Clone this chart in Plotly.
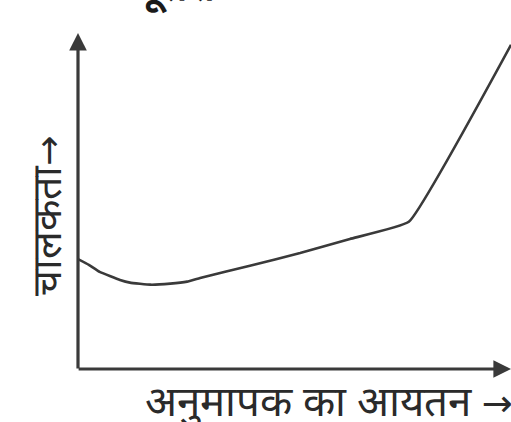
import plotly.graph_objects as go

# Titrant volume (arbitrary units) and conductance (arbitrary units)
volume = [0.0, 0.25, 0.5, 0.97, 1.2, 1.67, 2.13, 2.52, 2.82, 3.97, 5.13, 6.28, 7.64, 10.0]
conductance = [3.27, 3.10, 2.89, 2.65, 2.57, 2.51, 2.54, 2.60, 2.71, 3.07, 3.45, 3.87, 4.38, 9.65]

x_label = "अनुमापक का आयतन"
y_label = "चालकता"
arrow = "→"
top_text = "दूसरा"

ink = "#3a3a3a"
arrow_span = '<span style="font-family:DejaVu Sans;font-size:{}px">' + arrow + '</span>'

fig = go.Figure()
fig.add_trace(go.Scatter(x=volume, y=conductance, mode="lines",
                         line=dict(color=ink, width=2.6, shape="spline", smoothing=0.3),
                         hoverinfo="skip"))

fig.update_layout(
    width=511, height=422,
    margin=dict(l=78, r=0, t=33, b=53),
    paper_bgcolor="white", plot_bgcolor="white",
    showlegend=False,
    xaxis=dict(range=[0, 10], showgrid=False, zeroline=False, showticklabels=False,
               ticks="", showline=False, fixedrange=True),
    yaxis=dict(range=[0, 10], showgrid=False, zeroline=False, showticklabels=False,
               ticks="", showline=False, fixedrange=True),
)

# axes with arrowheads
fig.add_annotation(x=0, y=10, ax=0, ay=-0.03, xref="x", yref="y", axref="x", ayref="y",
                   showarrow=True, arrowhead=2, arrowsize=1.1, arrowwidth=3.2,
                   arrowcolor=ink, text="")
fig.add_annotation(x=10, y=0, ax=-0.02, ay=0, xref="x", yref="y", axref="x", ayref="y",
                   showarrow=True, arrowhead=2, arrowsize=1.1, arrowwidth=3.2,
                   arrowcolor=ink, text="")

fig.add_annotation(text=y_label + arrow_span.format(36), xref="paper", yref="paper",
                   x=-0.077, y=0.455,
                   textangle=-90, showarrow=False, xanchor="center", yanchor="middle",
                   font=dict(size=41, color="#2a2a2a"))
fig.add_annotation(text=x_label + " " + arrow_span.format(37), xref="paper", yref="paper",
                   x=1.0, y=-0.107, xshift=4, yshift=5,
                   showarrow=False, xanchor="right", yanchor="middle",
                   font=dict(size=42, color="#2a2a2a"))
# heading cut off at the top edge of the picture
fig.add_annotation(text=top_text, xref="paper", yref="paper", x=0.13, y=1.0,
                   yshift=17, showarrow=False, xanchor="left", yanchor="bottom",
                   font=dict(size=42, color="#1a1a1a", weight="bold"))

fig.write_html("out.html", config={"displayModeBar": False},
               post_script="document.body.style.margin='0';")
